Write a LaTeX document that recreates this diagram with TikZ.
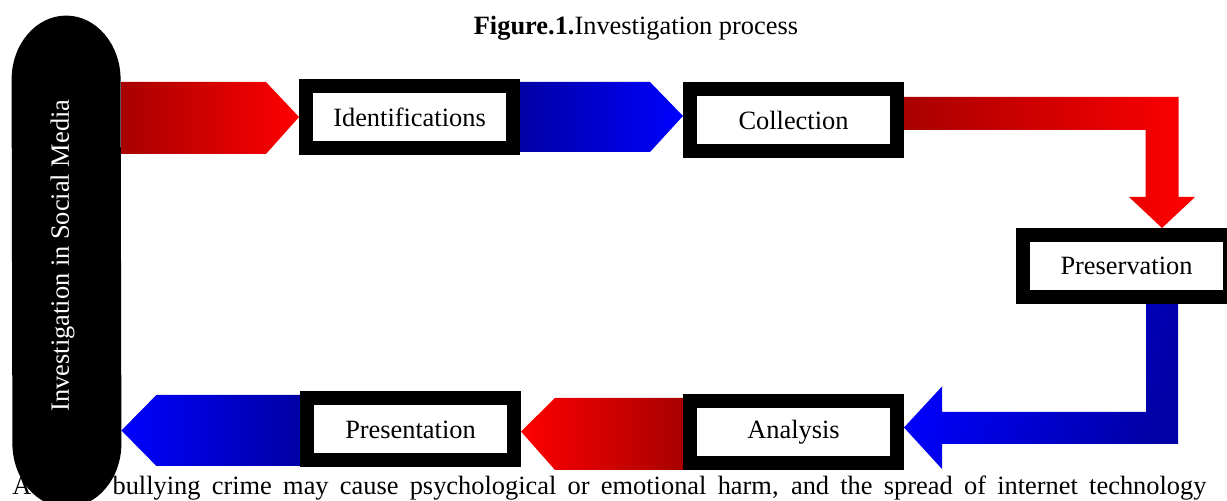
\documentclass[tikz,border=0pt]{standalone}
\usepackage{fontspec}
\setmainfont{Liberation Serif}
\usetikzlibrary{calc, backgrounds}
\definecolor{dkred}{RGB}{168,0,0}
\definecolor{dkblue}{RGB}{0,0,165}
\newcommand{\stagefont}{\fontsize{13.2pt}{16pt}\selectfont}
\tikzset{stage/.style = {draw, line width = 7pt, fill = white, minimum width = 103.5pt, minimum height = 31pt, inner sep = 0pt, font = \stagefont}}
\tikzset{redflow/.style = {left color = dkred, right color = red}}
\tikzset{redback/.style = {left color = red, right color = dkred}}
\tikzset{blueflow/.style = {left color = dkblue, right color = blue}}
\tikzset{blueback/.style = {left color = blue, right color = dkblue}}

\begin{document}
\begin{tikzpicture}[x = 0.5pt, y = -0.5pt]
	\useasboundingbox (0,0) rectangle (1227,501);
	\clip (0,0) rectangle (1227,501);

	\node[anchor = base, font = \stagefont] (title) at (636,35) {\textbf{Figure.1.}Investigation process};
	\node[anchor = base west, font = \stagefont, inner sep = 0pt] (body) at (12,495)
		{\makebox[597pt][s]{A cyber bullying crime may cause psychological or emotional harm, and the spread of internet technology}};

	% oval on the left
	\node[minimum width = 54.5pt, minimum height = 245.5pt, inner sep = 0pt] (media) at (66.5,261.5) {};
	\fill (media.north west) ++(0,64) arc[start angle = 180, end angle = 360, x radius = 54.5, y radius = 64]
		-- ($(media.south east)+(0,-64)$) arc[start angle = 0, end angle = 180, x radius = 54.5, y radius = 64] -- cycle;
	\node[rotate = 90, text = white, font = \stagefont] (medialabel) at ($(media.center)+(-4,-6)$) {Investigation in Social Media};

	\node[stage] (ident) at (409.5,117) {Identifications};
	\node[stage] (collect) at (793.5,120) {Collection};
	\node[stage] (preserve) at (1126.5,266) {Preservation};
	\node[stage] (analyse) at (793.5,432) {Analysis};
	\node[stage] (present) at (410.5,429.5) {Presentation};

	\begin{scope}[on background layer]
		\shade[redflow] ($(media.east |- ident.west)+(0,-35)$) -- ($(ident.west)+(-33,-35)$) -- (ident.west)
			-- ($(ident.west)+(-33,37)$) -- ($(media.east |- ident.west)+(0,37)$) -- cycle;
		\shade[blueflow] ($(ident.east)+(0,-35)$) -- ($(collect.west)+(-33,-38)$) -- ($(collect.west)+(0,-4)$)
			-- ($(collect.west)+(-33,32)$) -- ($(ident.east)+(0,35)$) -- cycle;
		\shade[redflow] ($(collect.east)+(0,-23)$) -- ($(preserve.north)+(52,-131)$) -- ($(preserve.north)+(52,-31)$)
			-- ($(preserve.north)+(68.5,-31)$) -- ($(preserve.north)+(35.5,0)$) -- ($(preserve.north)+(2.5,-31)$)
			-- ($(preserve.north)+(19,-31)$) -- ($(preserve.north)+(19,-98)$) -- ($(collect.east)+(0,10)$) -- cycle;
		\shade[blueback, shading angle = 70] ($(preserve.south)+(19.5,0)$) -- ($(preserve.south)+(51.5,0)$) -- ($(preserve.south)+(51.5,140)$)
			-- ($(analyse.east)+(38,12)$) -- ($(analyse.east)+(38,37)$) -- ($(analyse.east)+(0,-4.5)$)
			-- ($(analyse.east)+(38,-45.5)$) -- ($(analyse.east)+(38,-20)$) -- ($(preserve.south)+(19.5,108)$) -- cycle;
		\shade[redback] ($(analyse.west)+(0,-34)$) -- ($(present.east)+(34,-31.5)$) -- ($(present.east)+(0,2)$)
			-- ($(present.east)+(34,40.5)$) -- ($(analyse.west)+(0,38)$) -- cycle;
		\shade[blueback] ($(present.west)+(0,-34.5)$) -- ($(media.east |- present.west)+(35,-34.5)$) -- ($(media.east |- present.west)+(0,1)$)
			-- ($(media.east |- present.west)+(35,36.5)$) -- ($(present.west)+(0,36.5)$) -- cycle;
	\end{scope}
\end{tikzpicture}
\end{document}
